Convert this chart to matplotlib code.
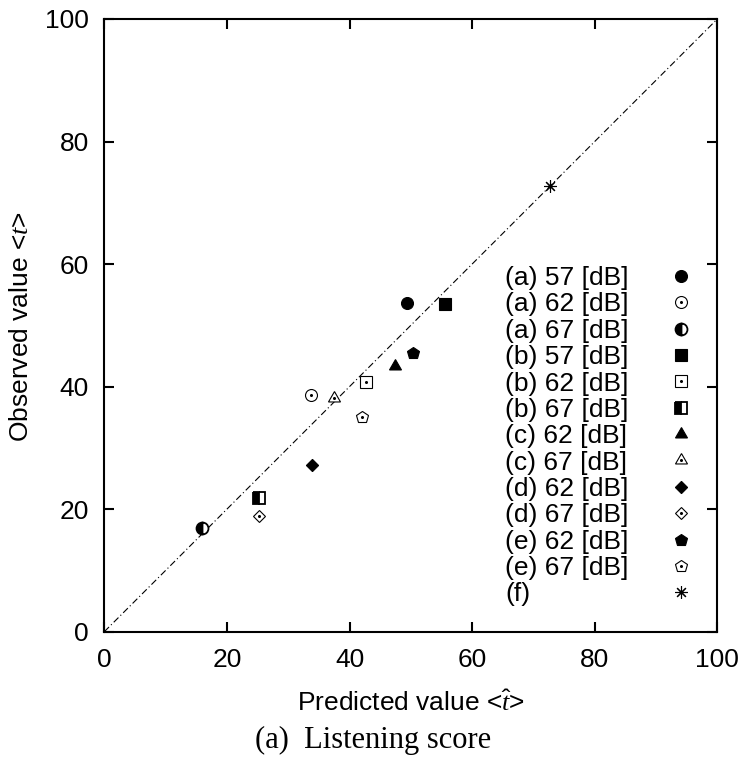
import matplotlib
matplotlib.use("Agg")
import matplotlib.pyplot as plt

plt.rcParams['font.family'] = ['Liberation Sans', 'DejaVu Sans']
plt.rcParams['mathtext.fontset'] = 'custom'
plt.rcParams['mathtext.rm'] = 'Liberation Sans'
plt.rcParams['mathtext.it'] = 'Liberation Serif:italic'

# ---- data ----
labels = ["(a) 57 [dB]", "(a) 62 [dB]", "(a) 67 [dB]",
          "(b) 57 [dB]", "(b) 62 [dB]", "(b) 67 [dB]",
          "(c) 62 [dB]", "(c) 67 [dB]",
          "(d) 62 [dB]", "(d) 67 [dB]",
          "(e) 62 [dB]", "(e) 67 [dB]",
          "(f)"]
predicted = [49.3, 33.8, 15.9, 55.5, 42.7, 25.3, 47.4, 37.4, 33.9, 25.2, 50.4, 42.0, 72.7]
observed = [53.7, 38.7, 16.9, 53.5, 40.7, 21.9, 43.4, 38.2, 27.2, 18.9, 45.5, 35.0, 72.7]
xticks = [0, 20, 40, 60, 80, 100]
yticks = [0, 20, 40, 60, 80, 100]

# ---- marker styles: (marker, size, fill, center dot) ----
styles = [
    ('o', 8.6, 'full', False),
    ('o', 8.6, 'none', True),
    ('o', 8.6, 'left', False),
    ('s', 9.0, 'full', False),
    ('s', 9.0, 'none', True),
    ('s', 9.0, 'left', False),
    ((3, 0, 0), 10.0, 'full', False),
    ((3, 0, 0), 10.0, 'none', True),
    ((4, 0, 0), 8.8, 'full', False),
    ((4, 0, 0), 8.6, 'none', True),
    ('p', 8.8, 'full', False),
    ('p', 8.8, 'none', True),
    ((8, 2, 0), 9.0, 'full', False),
]

W, H = 746, 764
fig = plt.figure(figsize=(W / 100, H / 100), dpi=100)
ax = fig.add_axes([104.3 / W, 1 - 631.7 / H, 613 / W, 612.7 / H])

ax.plot([0, 100], [0, 100], color='black', lw=0.8,
        linestyle=(0, (6, 2.5, 1, 2.5)), zorder=1)

handles = []
for lab, xv, yv, (m, ms, fill, dot) in zip(labels, predicted, observed, styles):
    kw = dict(marker=m, markersize=ms, color='black', linestyle='none',
              markeredgecolor='black', markeredgewidth=0.8)
    if fill == 'full':
        kw.update(markerfacecolor='black')
    elif fill == 'none':
        kw.update(markerfacecolor='white')
    else:
        kw.update(fillstyle='left', markerfacecolor='black',
                  markerfacecoloralt='white', markeredgewidth=1.3)
    if m == (8, 2, 0):
        kw.update(markeredgewidth=0.8)
    h, = ax.plot([xv], [yv], zorder=3, **kw)
    if dot:
        d, = ax.plot([xv], [yv], marker='o', markersize=1.2, color='black',
                     linestyle='none', zorder=4)
        handles.append((h, d))
    else:
        handles.append(h)

ax.set_xlim(0, 100)
ax.set_ylim(0, 100)
ax.set_xticks(xticks)
ax.set_yticks(yticks)
ax.tick_params(direction='in', length=7, width=1.5, top=True, right=True,
               labelsize=19)
ax.tick_params(axis='x', pad=12)
ax.tick_params(axis='y', pad=11)
for s in ax.spines.values():
    s.set_linewidth(1.5)

ax.set_xlabel(r'Predicted value <$\hat{t}$>', fontsize=19)
ax.xaxis.set_label_coords(0.5, (631.7 - 703) / 612.7)
ax.xaxis.label.set_va('center')
ax.set_ylabel(r'Observed value <$t$>', fontsize=19)
ax.yaxis.set_label_coords((21 - 104.3) / 613, (631.7 - 327) / 612.7)
ax.yaxis.label.set_va('center')
ax.yaxis.label.set_ha('center')

leg = ax.legend(handles, labels, loc='upper left',
                bbox_to_anchor=((505 - 104.3) / 613, (631.7 - 266) / 612.7),
                frameon=False, markerfirst=False, fontsize=19,
                borderpad=0, borderaxespad=0, labelspacing=0.09,
                handlelength=2.0, handletextpad=1.0, numpoints=1)

# left-justify the legend texts while keeping the keys in one column
fig.canvas.draw()
rend = fig.canvas.get_renderer()
widths = [t.get_window_extent(rend).width for t in leg.texts]
maxw = max(widths)
for col in leg._legend_handle_box.get_children():
    col.align = 'left'
    for row in col.get_children():
        tb = row.get_children()[0]
        w = tb._text.get_window_extent(rend).width
        row.sep = row.sep + (maxw - w) * 72.0 / fig.dpi

fig.text(373 / W, 1 - 740 / H, '(a)  Listening score', ha='center', va='center',
         family='Liberation Serif', fontsize=22)

fig.savefig('out.png', dpi=100)
